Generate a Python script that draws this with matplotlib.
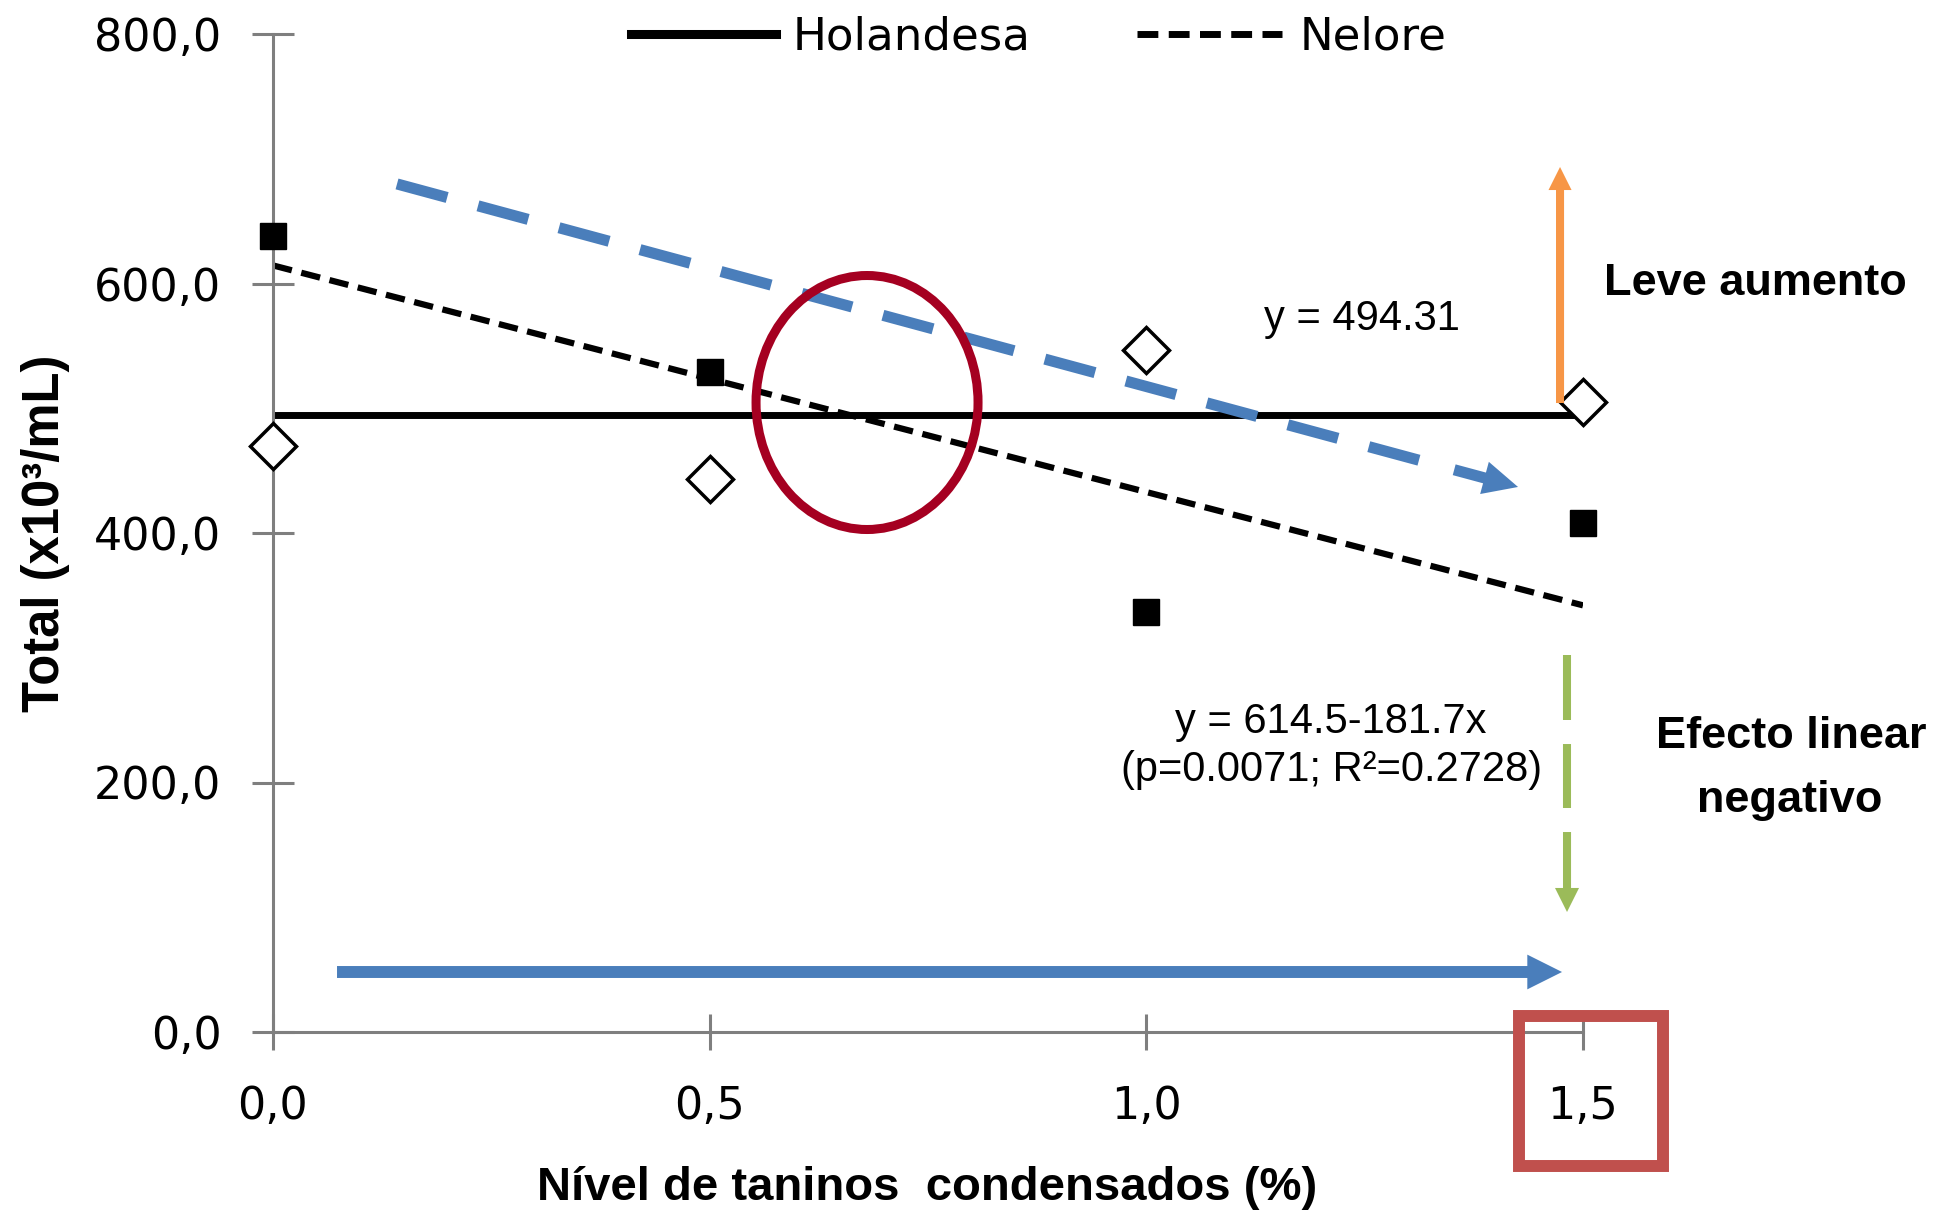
import matplotlib
matplotlib.use('Agg')
import matplotlib.pyplot as plt
from matplotlib.lines import Line2D
from matplotlib.patches import Ellipse, Rectangle, FancyArrowPatch, ArrowStyle

plt.rcParams['lines.scale_dashes'] = False

# data
nivel = [0.0, 0.5, 1.0, 1.5]
holandesa = [470, 443, 547, 505]
nelore = [638, 529, 337, 408]
fit_x = [0.0, 1.5]
holandesa_fit = [494.31, 494.31]
nelore_fit = [614.5, 342.0]

x_ticks = [0.0, 0.5, 1.0, 1.5]
x_tick_labels = ['0,0', '0,5', '1,0', '1,5']
y_ticks = [0, 200, 400, 600, 800]
y_tick_labels = ['0,0', '200,0', '400,0', '600,0', '800,0']

grey = '#7f7f7f'
blue = '#4A7EBB'
green = '#9BBB59'
orange = '#F79646'
sans = ['Liberation Sans', 'DejaVu Sans']

fig = plt.figure(figsize=(19.48, 12.13), dpi=100)
ax = fig.add_axes([273 / 1948, 181 / 1213, 1310 / 1948, 998 / 1213])

ax.plot(fit_x, holandesa_fit, color='black', lw=5, solid_capstyle='butt')
ax.plot(fit_x, nelore_fit, color='black', lw=4.5, ls=(0, (14, 7)))
ax.plot(nivel, holandesa, ls='none', marker='D', ms=23, mfc='white', mec='black',
        mew=2.5, clip_on=False, zorder=5)
ax.plot(nivel, nelore, ls='none', marker='s', ms=19, color='black', clip_on=False, zorder=5)


def arrow(p0, p1, color, tail, head_len, head_w):
    ax.add_patch(FancyArrowPatch(p0, p1, arrowstyle=ArrowStyle.Simple(
        head_length=head_len, head_width=head_w, tail_width=tail),
        mutation_scale=1, facecolor=color, edgecolor='none', shrinkA=0, shrinkB=0,
        clip_on=False, zorder=6))


# blue dashed trend arrow
ax.plot([0.142, 1.315], [679.8, 457.8], color=blue, lw=8, ls=(0, (37.4, 23)),
        dash_capstyle='butt', clip_on=False, zorder=6)
arrow((1.3525, 450.7), (1.4256, 436.9), blue, 8, 25, 24)

# orange up arrow
arrow((1.4737, 504.2), (1.4737, 693.4), orange, 5.8, 16.6, 16.6)

# green dashed down arrow
ax.plot([1.4817, 1.4817], [302.2, 179.6], color=green, lw=5.8, ls=(0, (46.8, 17.3)),
        dash_capstyle='butt', clip_on=False, zorder=6)
arrow((1.4817, 160.3), (1.4817, 96.2), green, 5.8, 17.3, 17.3)

# blue horizontal arrow
arrow((0.0733, 48.1), (1.4760, 48.1), blue, 8.6, 25, 25)

ax.add_patch(Ellipse((0.6802, 504.6), 0.2542, 203.6, fill=False, ec='#A50021', lw=6.5,
                     clip_on=False, zorder=6))
ax.add_patch(Rectangle((1.4267, -107.4), 0.1649, 120.2, fill=False, ec='#C0504D', lw=8.6,
                       clip_on=False, zorder=6))

ax.text(1.2469, 562.7, 'y = 494.31', ha='center', va='baseline', fontsize=30, family=sans)
ax.text(1.2115, 239.7, 'y = 614.5-181.7x', ha='center', va='baseline', fontsize=30, family=sans)
ax.text(1.2126, 201.2, '(p=0.0071; R²=0.2728)', ha='center', va='baseline', fontsize=30,
        family=sans)
ax.text(1.697, 590.8, 'Leve aumento', ha='center', va='baseline', fontsize=32.5,
        family=sans, weight='bold')
ax.text(1.738, 227.7, 'Efecto linear', ha='center', va='baseline', fontsize=32.5,
        family=sans, weight='bold')
ax.text(1.737, 176.4, 'negativo', ha='center', va='baseline', fontsize=32.5,
        family=sans, weight='bold')

ax.set_xlim(0, 1.5)
ax.set_ylim(0, 800)
ax.set_xticks(x_ticks, x_tick_labels)
ax.set_yticks(y_ticks, y_tick_labels)
ax.tick_params(direction='inout', color=grey, width=2.2, labelsize=32)
ax.tick_params(axis='y', length=30, pad=22)
ax.tick_params(axis='x', length=26.6, pad=25)
for s in ['top', 'right']:
    ax.spines[s].set_visible(False)
for s in ['left', 'bottom']:
    ax.spines[s].set_color(grey)
    ax.spines[s].set_linewidth(2.2)

handles = [Line2D([], [], color='black', lw=6.5),
           Line2D([], [], color='black', lw=5, ls=(0, (15, 7.5)))]
fig.legend(handles, ['Holandesa', 'Nelore'], loc='center left',
           bbox_to_anchor=(631 / 1948, 1 - 37 / 1213), ncol=2, frameon=False,
           fontsize=32.5, handlelength=3.21, handletextpad=0.38, columnspacing=2.35,
           borderpad=0, borderaxespad=0)

fig.text(46 / 1948, 1 - 533 / 1213, 'Total (x10³/mL)', rotation=90, ha='center',
         va='center', fontsize=36.5, weight='bold', family=sans)
fig.text(927 / 1948, 1 - 1200 / 1213, 'Nível de taninos  condensados (%)', ha='center',
         va='baseline', fontsize=34, weight='bold', family=sans)

fig.savefig('out.png', dpi=100)
